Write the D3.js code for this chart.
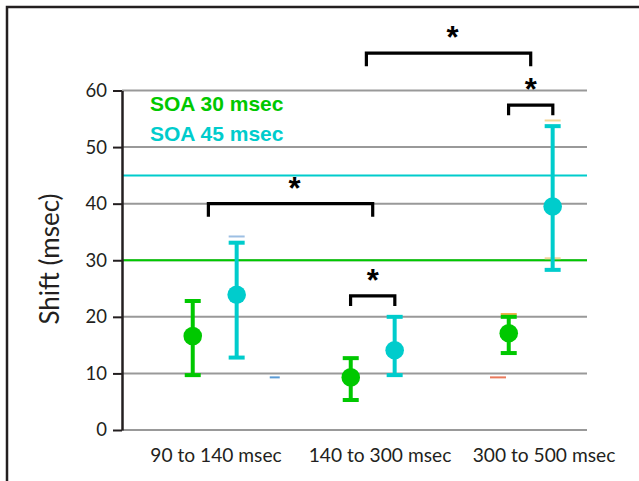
<!DOCTYPE html>
<html>
<head>
<meta charset="utf-8">
<script src="https://cdn.jsdelivr.net/npm/d3@7"></script>
<style>
  body { margin: 0; background: #fff; }
</style>
</head>
<body>
<div id="chart"></div>
<script>
// data
var categories = ['90 to 140 msec', '140 to 300 msec', '300 to 500 msec'];
var soa30Mean = [16.6, 9.3, 17.1];
var soa30Hi = [22.8, 12.7, 20.0];
var soa30Lo = [9.7, 5.3, 13.6];
var soa45Mean = [23.9, 14.1, 39.5];
var soa45Hi = [33.1, 20.0, 53.7];
var soa45Lo = [12.8, 9.7, 28.3];
var refLines = [30, 45];
var yTicks = [0, 10, 20, 30, 40, 50, 60];
var legendLabels = ['SOA 30 msec', 'SOA 45 msec'];

// significance brackets (group index units, level in msec)
var bracketFrom = [-0.04, 0.86, 0.96, 1.86];
var bracketTo = [1.0, 1.14, 2.0, 2.14];
var bracketLevel = [40, 23.7, 66.6, 57.4];

// stray little dashes left in the original figure
var strayPos = [0.139, 0.38, 1.861, 1.793, 2.139, 2.139];
var strayValue = [34.2, 9.3, 20.5, 9.3, 54.7, 30.35];
var strayColor = ['#9dbfe3', '#5b9bd5', '#f2b24e', '#ea7a5c', '#f3d596', '#f3d596'];

var green = '#00c800', cyan = '#00cccc', ink = '#231f20', grid = '#999999';
var offset = 0.139;

var svg = d3.select('#chart').append('svg')
    .attr('width', 639)
    .attr('height', 481)
    .style('font-family', 'Lato, sans-serif');

// frame
svg.append('rect')
    .attr('x', 7).attr('y', 7)
    .attr('width', 700).attr('height', 600)
    .attr('fill', 'none')
    .attr('stroke', ink)
    .attr('stroke-width', 2.5);

var x = d3.scaleLinear().domain([0, 2]).range([214.7, 530.7]);
var y = d3.scaleLinear().domain([0, 60]).range([430, 90.5]);
var labelX = d3.scalePoint().domain(categories).range([216, 544]);

// grid
svg.append('g').selectAll('line')
    .data(yTicks)
    .enter().append('line')
        .attr('x1', 122).attr('x2', 587)
        .attr('y1', function(d) { return y(d); })
        .attr('y2', function(d) { return y(d); })
        .attr('stroke', grid)
        .attr('stroke-width', 2);

// reference lines
svg.append('g').selectAll('line')
    .data(refLines)
    .enter().append('line')
        .attr('x1', 122).attr('x2', 587)
        .attr('y1', function(d) { return y(d); })
        .attr('y2', function(d) { return y(d); })
        .attr('stroke', function(d, i) { return i === 0 ? green : cyan; })
        .attr('stroke-width', 2);

// y axis
var yAxis = svg.append('g')
    .attr('transform', 'translate(122,0)')
    .call(d3.axisLeft(y).tickValues(yTicks).tickSize(9).tickPadding(6).tickSizeOuter(0));
yAxis.select('.domain').attr('stroke', ink).attr('stroke-width', 2.5);
yAxis.selectAll('.tick line').attr('stroke', ink).attr('stroke-width', 2);
yAxis.selectAll('.tick text')
    .attr('fill', ink)
    .style('font-family', 'Lato, sans-serif')
    .style('font-size', '18.5px');

svg.append('text')
    .attr('transform', 'translate(59,259) rotate(-90)')
    .attr('text-anchor', 'middle')
    .attr('fill', ink)
    .style('font-size', '26px')
    .text('Shift (msec)');

// x labels
svg.append('g').selectAll('text')
    .data(categories)
    .enter().append('text')
        .attr('x', function(d) { return labelX(d); })
        .attr('y', 462)
        .attr('text-anchor', 'middle')
        .attr('fill', ink)
        .style('font-size', '19.2px')
        .text(function(d) { return d; });

// stray dashes
svg.append('g').selectAll('line')
    .data(strayPos)
    .enter().append('line')
        .attr('x1', function(d, i) { return x(d) - (i === 1 ? 5 : 8); })
        .attr('x2', function(d, i) { return x(d) + (i === 1 ? 5 : 8); })
        .attr('y1', function(d, i) { return y(strayValue[i]); })
        .attr('y2', function(d, i) { return y(strayValue[i]); })
        .attr('stroke', function(d, i) { return strayColor[i]; })
        .attr('stroke-width', 2);

// error bars and means
function drawSeries(mean, hi, lo, shift, color) {
    var g = svg.append('g');
    var idx = d3.range(mean.length);
    g.selectAll('line.bar')
        .data(idx)
        .enter().append('line')
            .attr('class', 'bar')
            .attr('x1', function(i) { return x(i + shift); })
            .attr('x2', function(i) { return x(i + shift); })
            .attr('y1', function(i) { return y(hi[i]); })
            .attr('y2', function(i) { return y(lo[i]); })
            .attr('stroke', color)
            .attr('stroke-width', 4);
    [hi, lo].forEach(function(arr) {
        g.selectAll(null)
            .data(idx)
            .enter().append('line')
                .attr('x1', function(i) { return x(i + shift) - 8; })
                .attr('x2', function(i) { return x(i + shift) + 8; })
                .attr('y1', function(i) { return y(arr[i]); })
                .attr('y2', function(i) { return y(arr[i]); })
                .attr('stroke', color)
                .attr('stroke-width', 4);
    });
    g.selectAll('circle')
        .data(idx)
        .enter().append('circle')
            .attr('cx', function(i) { return x(i + shift); })
            .attr('cy', function(i) { return y(mean[i]); })
            .attr('r', 9.3)
            .attr('fill', color);
}
drawSeries(soa30Mean, soa30Hi, soa30Lo, -offset, green);
drawSeries(soa45Mean, soa45Hi, soa45Lo, offset, cyan);

// brackets and stars
var br = svg.append('g');
bracketFrom.forEach(function(f, i) {
    var x1 = x(f), x2 = x(bracketTo[i]), yy = y(bracketLevel[i]);
    var drop = (bracketTo[i] - f) > 0.5 ? 13 : 10;
    br.append('path')
        .attr('d', 'M' + x1 + ',' + (yy + drop) + 'V' + yy + 'H' + x2 + 'V' + (yy + drop))
        .attr('fill', 'none')
        .attr('stroke', '#000')
        .attr('stroke-width', 3.2);
    br.append('text')
        .attr('x', (x1 + x2) / 2 + ((bracketTo[i] - f) > 0.5 ? 4 : 0))
        .attr('y', yy - 5)
        .attr('text-anchor', 'middle')
        .style('font-family', 'Liberation Sans, Arial, sans-serif')
        .style('font-weight', 'bold')
        .style('font-size', '31px')
        .text('*');
});

// legend
svg.append('g').selectAll('text')
    .data(legendLabels)
    .enter().append('text')
        .attr('x', 150)
        .attr('y', function(d, i) { return 111 + i * 30; })
        .attr('fill', function(d, i) { return i === 0 ? green : cyan; })
        .style('font-family', 'Liberation Sans, Arial, sans-serif')
        .style('font-weight', 'bold')
        .style('font-size', '21px')
        .text(function(d) { return d; });
</script>
</body>
</html>
